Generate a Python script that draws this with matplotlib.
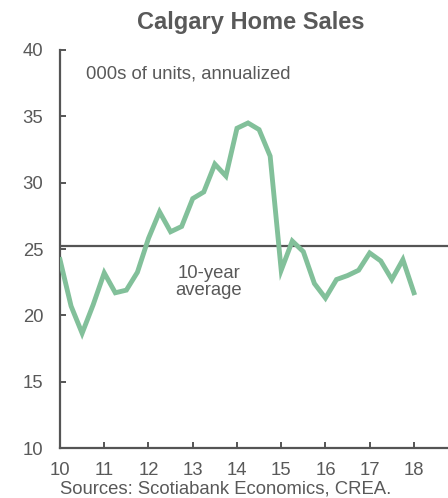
import matplotlib
matplotlib.use("Agg")
import matplotlib.pyplot as plt
import numpy as np

plt.rcParams['font.family'] = ['Liberation Sans', 'DejaVu Sans']

quarters = [10.0, 10.25, 10.5, 10.75, 11.0, 11.25, 11.5, 11.75,
            12.0, 12.25, 12.5, 12.75, 13.0, 13.25, 13.5, 13.75,
            14.0, 14.25, 14.5, 14.75, 15.0, 15.25, 15.5, 15.75,
            16.0, 16.25, 16.5, 16.75, 17.0, 17.25, 17.5, 17.75, 18.0]
sales = [24.2, 20.7, 18.65, 20.8, 23.2, 21.7, 21.9, 23.25,
         25.8, 27.8, 26.3, 26.7, 28.8, 29.3, 31.4, 30.5,
         34.1, 34.5, 34.0, 32.0, 23.4, 25.6, 24.8, 22.4,
         21.3, 22.7, 23.0, 23.4, 24.7, 24.1, 22.7, 24.2, 21.7]
avg_10yr = 25.2
xticks = [10, 11, 12, 13, 14, 15, 16, 17, 18]
yticks = [10, 15, 20, 25, 30, 35, 40]

gray = '#595959'
fig = plt.figure(figsize=(4.48, 4.98), dpi=100)
ax = fig.add_axes([60/448, 50/498, 388/448, 398/498])
ax.plot(quarters, sales, color='#82C09A', lw=3.5, solid_joinstyle='miter', zorder=3)
ax.axhline(avg_10yr, color='#555555', lw=1.6, zorder=2)

ax.set_xlim(10, 18.77)
ax.set_ylim(10, 40)
ax.set_xticks(xticks)
ax.set_xticklabels([str(t) for t in xticks])
ax.set_yticks(yticks)
for s in ['top', 'right']:
    ax.spines[s].set_visible(False)
for s in ['left', 'bottom']:
    ax.spines[s].set_color('#555555')
    ax.spines[s].set_linewidth(1.6)
ax.tick_params(axis='both', colors='#555555', labelcolor=gray, labelsize=13.3,
               width=1.4, direction='in')
ax.tick_params(axis='y', length=4.5, pad=12)
ax.tick_params(axis='x', length=4, pad=10)

fig.text(251/448, 1 - 22/498, 'Calgary Home Sales', ha='center', va='center',
         fontsize=17, fontweight='bold', color=gray)
fig.text(86/448, 1 - 74/498, '000s of units, annualized', ha='left', va='center',
         fontsize=13.3, color=gray)
fig.text(209/448, 1 - 282/498, '10-year\naverage', ha='center', va='center',
         fontsize=13.3, color=gray, linespacing=1.0)
fig.text(60/448, 1 - 489/498, 'Sources: Scotiabank Economics, CREA.', ha='left',
         va='center', fontsize=13.3, color=gray)

fig.savefig('out.png', dpi=100)
